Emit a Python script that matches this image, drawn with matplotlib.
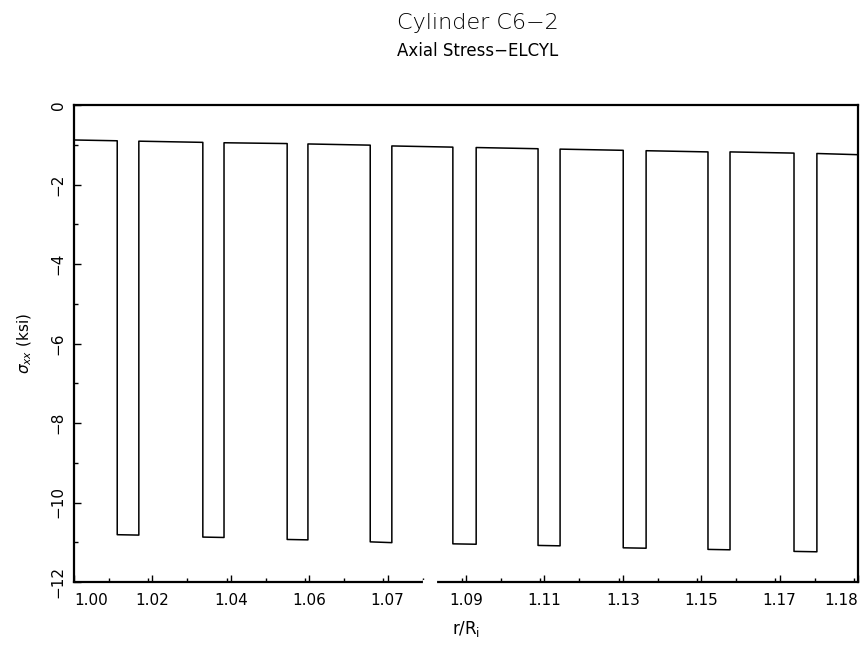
import matplotlib
matplotlib.use('Agg')
import matplotlib.pyplot as plt
from matplotlib.ticker import MultipleLocator
import numpy as np

# layer interfaces in r/Ri (outer and inner layers alternate)
edges = [1.0000, 1.0102, 1.0153, 1.0304, 1.0354, 1.0503, 1.0552, 1.0699,
         1.0750, 1.0894, 1.0949, 1.1095, 1.1147, 1.1296, 1.1350, 1.1496,
         1.1548, 1.1699, 1.1753, 1.1850]

# axial stress (ksi) at start/end of each thick layer
hi_start = [-0.88, -0.91, -0.95, -0.98, -1.03, -1.07, -1.11, -1.15, -1.18, -1.22]
hi_end = [-0.90, -0.94, -0.97, -1.01, -1.06, -1.10, -1.14, -1.18, -1.21, -1.25]
# axial stress (ksi) in each thin layer
lo_start = [-10.81, -10.87, -10.93, -10.99, -11.04, -11.08, -11.14, -11.18, -11.23]
lo_end = [-10.82, -10.88, -10.94, -11.01, -11.05, -11.09, -11.15, -11.19, -11.24]

xtick_labels = ['1.00', '1.02', '1.04', '1.06', '1.07', '1.09',
                '1.11', '1.13', '1.15', '1.17', '1.18']
yticks = [-12, -10, -8, -6, -4, -2, 0]

xs, ys = [], []
for i in range(len(edges) - 1):
    if i % 2 == 0:
        s, e = hi_start[i // 2], hi_end[i // 2]
    else:
        s, e = lo_start[i // 2], lo_end[i // 2]
    xs += [edges[i], edges[i + 1]]
    ys += [s, e]

fig = plt.figure(figsize=(8.63, 6.58), dpi=100)
ax = fig.add_axes([74 / 863, 1 - 582 / 658, 784 / 863, 477 / 658])

ax.plot(xs, ys, color='black', lw=1.1)

ax.set_xlim(edges[0], edges[-1])
ax.set_ylim(-12, 0)

xticks = np.linspace(edges[0], edges[-1], len(xtick_labels))
ax.set_xticks(xticks)
ax.set_xticklabels(xtick_labels, fontsize=11)
ax.xaxis.set_minor_locator(MultipleLocator((edges[-1] - edges[0]) / 20))
lbls = ax.get_xticklabels()
lbls[0].set_ha('left')
lbls[-1].set_ha('right')

ax.set_yticks(yticks)
ax.set_yticklabels([str(v).replace('-', '\u2212') for v in yticks], fontsize=11,
                   rotation=90, va='center')
ax.yaxis.set_minor_locator(MultipleLocator(1))

ax.tick_params(which='both', direction='in', width=1.0)
ax.tick_params(axis='x', which='major', length=5, pad=8)
ax.tick_params(axis='y', which='major', length=5, pad=6)
ax.tick_params(which='minor', length=3)
for sp in ax.spines.values():
    sp.set_linewidth(1.6)

# small break in the bottom border, as on the scanned plot
ax.plot([0.448, 0.461], [0, 0], transform=ax.transAxes, color='white',
        lw=3, clip_on=False, zorder=5)

ax.set_xlabel(r'r/R$_\mathrm{i}$', fontsize=12, labelpad=8)
ax.set_ylabel(r'$\sigma_{xx}$ (ksi)', fontsize=11, labelpad=12)

fig.text(0.554, 0.965, 'Cylinder C6\u22122', ha='center', va='center',
         fontsize=16, fontweight='light')
fig.text(0.554, 0.922, 'Axial Stress\u2212ELCYL', ha='center', va='center',
         fontsize=12)

fig.savefig('out.png', dpi=100)
